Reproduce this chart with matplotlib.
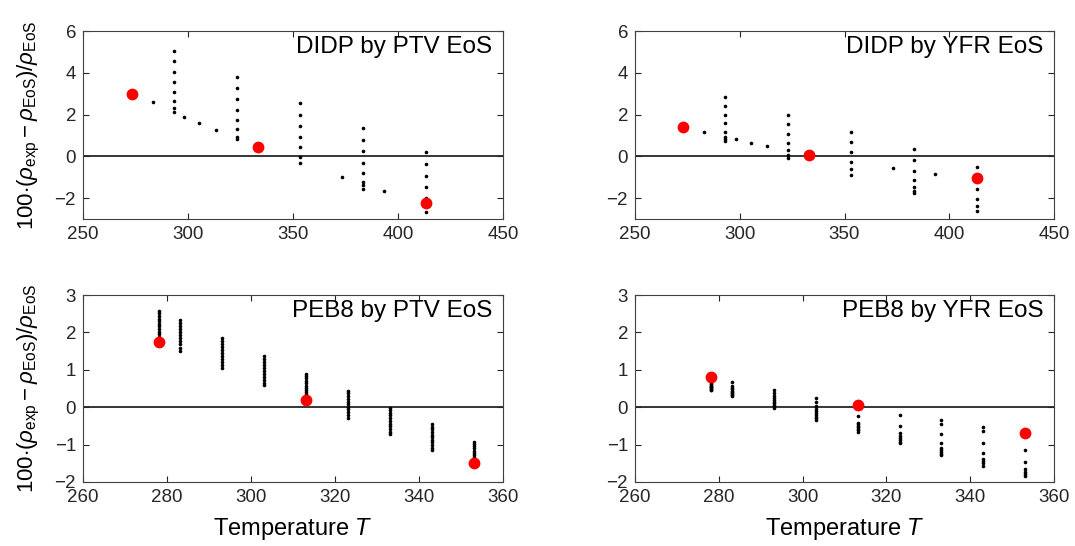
import numpy as np
import matplotlib.pyplot as plt

plt.rcParams['font.family'] = ['Liberation Sans', 'DejaVu Sans']
plt.rcParams['mathtext.fontset'] = 'custom'
plt.rcParams['mathtext.rm'] = 'Liberation Sans'
plt.rcParams['mathtext.it'] = 'Liberation Sans:italic'

# deviation data, temperature -> list of deviations (black dots)
didp_ptv = {
    283.15: [2.58],
    293.15: [5.06, 4.56, 4.06, 3.58, 3.10, 2.66, 2.30, 2.11],
    298.15: [1.89],
    305.15: [1.58],
    313.15: [1.26],
    323.15: [3.78, 3.25, 2.74, 2.22, 1.74, 1.30, 0.94, 0.85],
    353.15: [2.54, 2.00, 1.47, 0.94, 0.43, -0.02, -0.32],
    373.15: [-1.01],
    383.15: [1.34, 0.80, 0.26, -0.30, -0.82, -1.25, -1.39, -1.54],
    393.15: [-1.68],
    413.15: [0.21, -0.35, -0.93, -1.47, -1.98, -2.67],
}
didp_yfr = {
    283.15: [1.18],
    293.15: [2.86, 2.42, 2.00, 1.58, 1.18, 0.91, 0.82, 0.72],
    298.15: [0.83],
    305.15: [0.66],
    313.15: [0.48],
    323.15: [2.00, 1.54, 1.09, 0.66, 0.29, 0.05, -0.10],
    353.15: [1.17, 0.67, 0.19, -0.26, -0.61, -0.90],
    373.15: [-0.56],
    383.15: [0.34, -0.18, -0.69, -1.14, -1.49, -1.65, -1.76],
    393.15: [-0.83],
    413.15: [-0.53, -1.57, -2.02, -2.38, -2.62],
}
peb8_ptv = {
    278.15: [2.58, 2.51, 2.44, 2.37, 2.30, 2.23, 2.16, 2.09, 2.02, 1.95, 1.88],
    283.15: [2.34, 2.26, 2.18, 2.09, 2.01, 1.93, 1.84, 1.76, 1.68, 1.59, 1.51],
    293.15: [1.85, 1.77, 1.69, 1.61, 1.53, 1.45, 1.37, 1.29, 1.21, 1.13, 1.05],
    303.15: [1.38, 1.30, 1.22, 1.14, 1.06, 0.98, 0.90, 0.82, 0.74, 0.66, 0.60],
    313.15: [0.90, 0.84, 0.77, 0.71, 0.65, 0.58, 0.52, 0.46, 0.40, 0.34, 0.28],
    323.15: [0.44, 0.37, 0.30, 0.22, 0.15, 0.08, 0.01, -0.06, -0.13, -0.21, -0.28],
    333.15: [-0.01, -0.08, -0.15, -0.22, -0.29, -0.37, -0.44, -0.51, -0.58, -0.65, -0.72],
    343.15: [-0.45, -0.52, -0.59, -0.66, -0.73, -0.80, -0.87, -0.94, -1.01, -1.08, -1.15],
    353.15: [-0.92, -0.98, -1.04, -1.10, -1.16, -1.22, -1.28, -1.34],
}
peb8_yfr = {
    278.15: [0.66, 0.63, 0.60, 0.57, 0.55, 0.53, 0.51, 0.49, 0.47, 0.45],
    283.15: [0.68, 0.58, 0.52, 0.48, 0.44, 0.41, 0.38, 0.35, 0.32, 0.30],
    293.15: [0.46, 0.37, 0.30, 0.24, 0.19, 0.14, 0.10, 0.06, 0.02, -0.02],
    303.15: [0.24, 0.15, 0.02, -0.05, -0.11, -0.16, -0.21, -0.25, -0.29, -0.33],
    313.15: [-0.24, -0.41, -0.46, -0.50, -0.54, -0.58, -0.62, -0.65],
    323.15: [-0.20, -0.49, -0.70, -0.76, -0.82, -0.87, -0.92, -0.96],
    333.15: [-0.35, -0.44, -0.72, -0.95, -1.10, -1.15, -1.20, -1.25, -1.28],
    343.15: [-0.53, -0.63, -0.95, -1.22, -1.38, -1.44, -1.50, -1.56],
    353.15: [-1.15, -1.47, -1.66, -1.72, -1.78, -1.84],
}

# red points
didp_red_T = [273.15, 333.15, 413.15]
didp_ptv_red = [2.98, 0.46, -2.24]
didp_yfr_red = [1.39, 0.08, -1.06]
peb8_red_T = [278.15, 313.15, 353.15]
peb8_ptv_red = [1.75, 0.20, -1.48]
peb8_yfr_red = [0.82, 0.06, -0.70]

ylab = r'$100{\cdot}(\rho_{\rm exp} - \rho_{\rm EoS})/\rho_{\rm EoS}$'

fig = plt.figure(figsize=(10.75, 5.46), dpi=100)

W, H = 1075, 546
def box(l, t, r, b):
    return [l / W, 1 - b / H, (r - l) / W, (b - t) / H]

panels = [
    (box(83, 31, 503, 219), didp_ptv, didp_red_T, didp_ptv_red, 'DIDP by PTV EoS',
     (250, 450), (-3, 6), [250, 300, 350, 400, 450], [-2, 0, 2, 4, 6], True, False),
    (box(635, 31, 1054, 219), didp_yfr, didp_red_T, didp_yfr_red, 'DIDP by YFR EoS',
     (250, 450), (-3, 6), [250, 300, 350, 400, 450], [-2, 0, 2, 4, 6], False, False),
    (box(83, 295, 503, 482), peb8_ptv, peb8_red_T, peb8_ptv_red, 'PEB8 by PTV EoS',
     (260, 360), (-2, 3), [260, 280, 300, 320, 340, 360], [-2, -1, 0, 1, 2, 3], True, True),
    (box(635, 295, 1054, 482), peb8_yfr, peb8_red_T, peb8_yfr_red, 'PEB8 by YFR EoS',
     (260, 360), (-2, 3), [260, 280, 300, 320, 340, 360], [-2, -1, 0, 1, 2, 3], False, True),
]

for rect, black, rT, rv, title, xl, yl, xt, yt, showy, showx in panels:
    ax = fig.add_axes(rect)
    T = np.concatenate([[t] * len(v) for t, v in black.items()])
    d = np.concatenate([v for v in black.values()])
    ax.axhline(0, color='k', lw=1.1, zorder=1)
    ax.plot(T, d, 'o', color='k', ms=2.6, mew=0, zorder=2)
    ax.plot(rT, rv, 'o', color='red', ms=8.5, mew=0, zorder=3)
    ax.set_xlim(*xl)
    ax.set_ylim(*yl)
    ax.set_xticks(xt)
    ax.set_yticks(yt)
    ax.tick_params(direction='in', top=True, right=True, length=4, width=0.8,
                   labelsize=13.5, colors='#262626', pad=5)
    for s in ax.spines.values():
        s.set_color('#404040')
        s.set_linewidth(0.8)
    ax.text(0.975, 0.975, title, transform=ax.transAxes, ha='right', va='top', fontsize=17.5)
    if showy:
        ax.set_ylabel(ylab, fontsize=16, labelpad=9)
    if showx:
        ax.set_xlabel('Temperature $\\mathit{T}$', fontsize=17, labelpad=7)

fig.savefig('out.png', dpi=100)
